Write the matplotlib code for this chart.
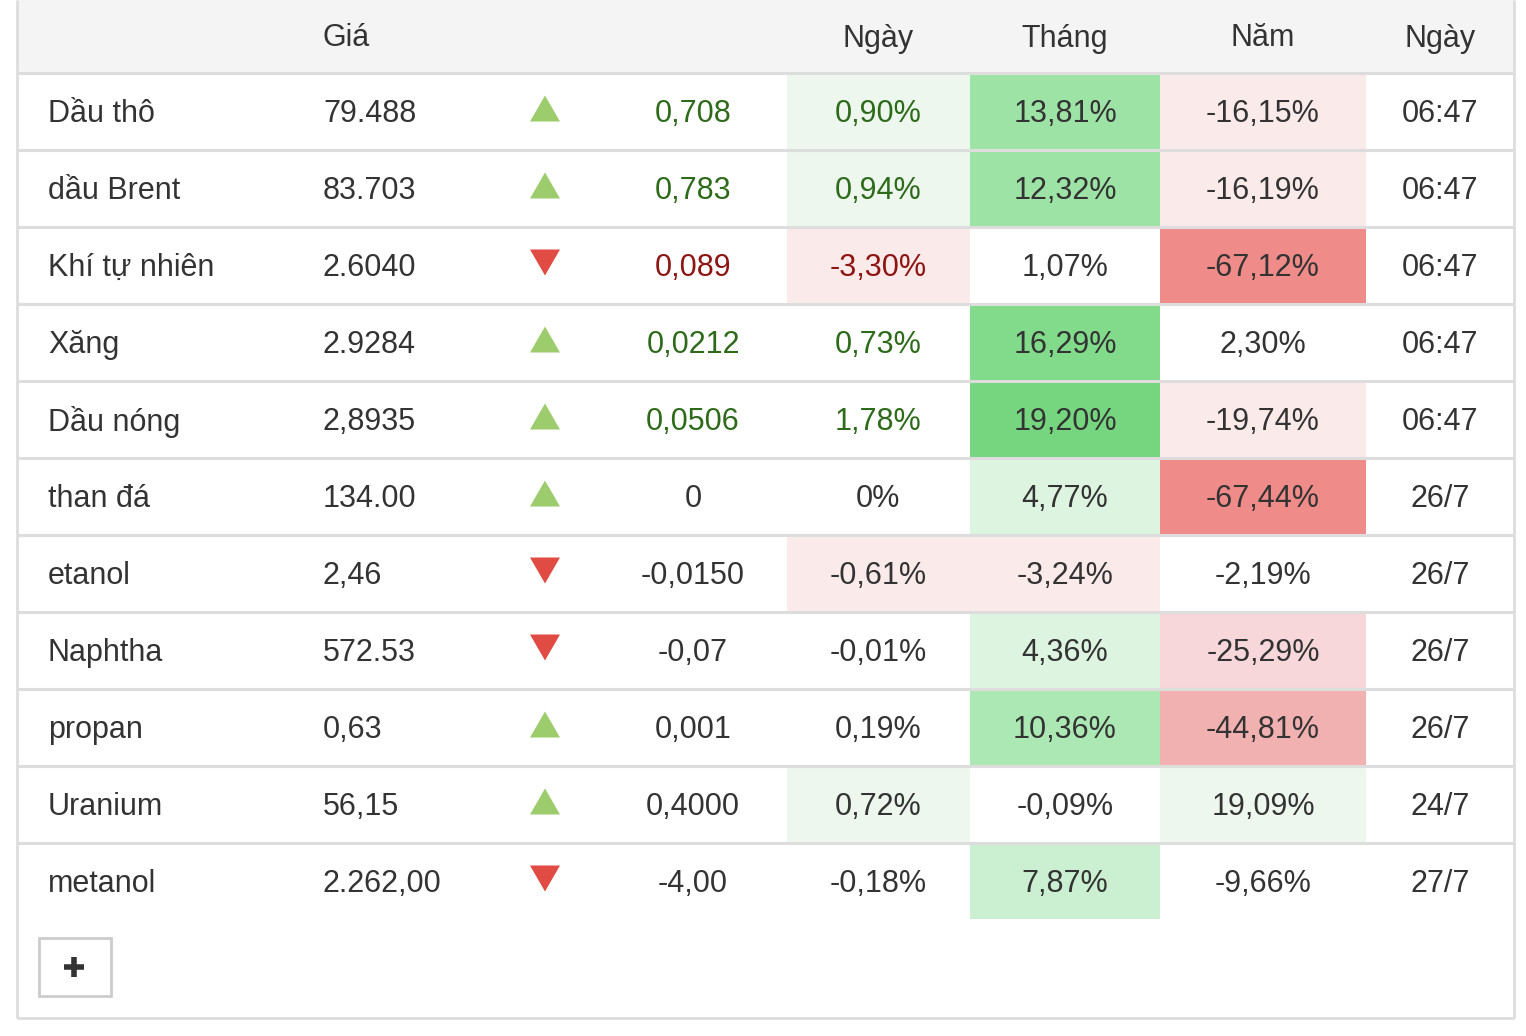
import matplotlib
matplotlib.use("Agg")
import matplotlib.pyplot as plt
from matplotlib.patches import Rectangle, Polygon

plt.rcParams['font.family'] = ['Liberation Sans', 'DejaVu Sans']

# du lieu bang
headers = ["Giá", "", "", "Ngày", "Tháng", "Năm", "Ngày"]
names = ["Dầu thô", "dầu Brent", "Khí tự nhiên", "Xăng", "Dầu nóng", "than đá",
         "etanol", "Naphtha", "propan", "Uranium", "metanol"]
prices = ["79.488", "83.703", "2.6040", "2.9284", "2,8935", "134.00",
          "2,46", "572.53", "0,63", "56,15", "2.262,00"]
direction = [1, 1, -1, 1, 1, 1, -1, -1, 1, 1, -1]
changes = ["0,708", "0,783", "0,089", "0,0212", "0,0506", "0",
           "-0,0150", "-0,07", "0,001", "0,4000", "-4,00"]
day_pct = ["0,90%", "0,94%", "-3,30%", "0,73%", "1,78%", "0%",
           "-0,61%", "-0,01%", "0,19%", "0,72%", "-0,18%"]
month_pct = ["13,81%", "12,32%", "1,07%", "16,29%", "19,20%", "4,77%",
             "-3,24%", "4,36%", "10,36%", "-0,09%", "7,87%"]
year_pct = ["-16,15%", "-16,19%", "-67,12%", "2,30%", "-19,74%", "-67,44%",
            "-2,19%", "-25,29%", "-44,81%", "19,09%", "-9,66%"]
times = ["06:47", "06:47", "06:47", "06:47", "06:47", "26/7",
         "26/7", "26/7", "26/7", "24/7", "27/7"]

# culori
W = "#ffffff"
LG = "#edf7ee"
LR = "#fbeaea"
day_bg = [LG, LG, LR, W, W, W, LR, W, W, LG, W]
month_bg = ["#9de3a5", "#9de3a5", W, "#82da8b", "#76d680", "#ddf4e0",
            LR, "#ddf4e0", "#ace8b3", W, "#cbf0d1"]
year_bg = [LR, LR, "#ef8b89", W, LR, "#ef8b89", W, "#f7d7d9", "#f1b1b1", LG, W]
# culoare text: 1 verde, -1 rosu, 0 normal
change_tone = [1, 1, -1, 1, 1, 0, 0, 0, 0, 0, 0]
tone_color = {1: "#2d6b1a", -1: "#8e1512", 0: "#333333"}

TXT = "#333333"
LINE = "#dddddd"
FS = 22

fig = plt.figure(figsize=(15.26, 10.36), dpi=100)
ax = fig.add_axes([0, 0, 1, 1])
ax.set_xlim(0, 1526)
ax.set_ylim(1036, 0)
ax.axis("off")

left, right = 17, 1514
head_h = 72
row_h = 77
n = len(names)
bottom = 1018

# header
ax.add_patch(Rectangle((left, 0), right - left, head_h, color="#f4f4f4", lw=0))

# celule colorate
cols_bg = [(787, 970, day_bg), (970, 1160, month_bg), (1160, 1366, year_bg)]
for x0, x1, bgs in cols_bg:
    for i, c in enumerate(bgs):
        if c != W:
            ax.add_patch(Rectangle((x0, head_h + i * row_h), x1 - x0, row_h, color=c, lw=0))

# linii
for i in range(n):
    y = head_h + i * row_h + 0.5
    ax.plot([left, right], [y, y], color=LINE, lw=2.2, solid_capstyle="butt")
ax.plot([left, left], [0, bottom], color=LINE, lw=2, solid_capstyle="butt")
ax.plot([right, right], [0, bottom], color=LINE, lw=2, solid_capstyle="butt")
ax.plot([left, right], [bottom, bottom], color=LINE, lw=2, solid_capstyle="butt")

# text header
hy = head_h / 2 - 1
ax.text(323, hy, headers[0], ha="left", va="center_baseline", fontsize=FS, color=TXT)
for xc, h in zip([878, 1065, 1263, 1440], headers[3:]):
    ax.text(xc, hy, h, ha="center", va="center_baseline", fontsize=FS, color=TXT)

# randuri
for i in range(n):
    yc = head_h + i * row_h + row_h / 2
    ax.text(48, yc, names[i], ha="left", va="center_baseline", fontsize=FS, color=TXT)
    ax.text(323, yc, prices[i], ha="left", va="center_baseline", fontsize=FS, color=TXT)
    # sageata
    if direction[i] > 0:
        tri = [(530, yc + 11), (560, yc + 11), (545, yc - 15)]
        ax.add_patch(Polygon(tri, closed=True, color="#9dcc6c", lw=0))
    else:
        tri = [(530, yc - 15), (560, yc - 15), (545, yc + 11)]
        ax.add_patch(Polygon(tri, closed=True, color="#e04b43", lw=0))
    tc = tone_color[change_tone[i]]
    ax.text(693, yc, changes[i], ha="center", va="center_baseline", fontsize=FS, color=tc)
    ax.text(878, yc, day_pct[i], ha="center", va="center_baseline", fontsize=FS, color=tc)
    ax.text(1065, yc, month_pct[i], ha="center", va="center_baseline", fontsize=FS, color=TXT)
    ax.text(1263, yc, year_pct[i], ha="center", va="center_baseline", fontsize=FS, color=TXT)
    ax.text(1440, yc, times[i], ha="center", va="center_baseline", fontsize=FS, color=TXT)

# buton +
ax.add_patch(Rectangle((39, 938), 72, 58, fill=False, edgecolor="#cccccc", lw=2))
ax.plot([64, 84], [967, 967], color=TXT, lw=4, solid_capstyle="butt")
ax.plot([74, 74], [957, 977], color=TXT, lw=4, solid_capstyle="butt")

fig.savefig("out.png", dpi=100)
